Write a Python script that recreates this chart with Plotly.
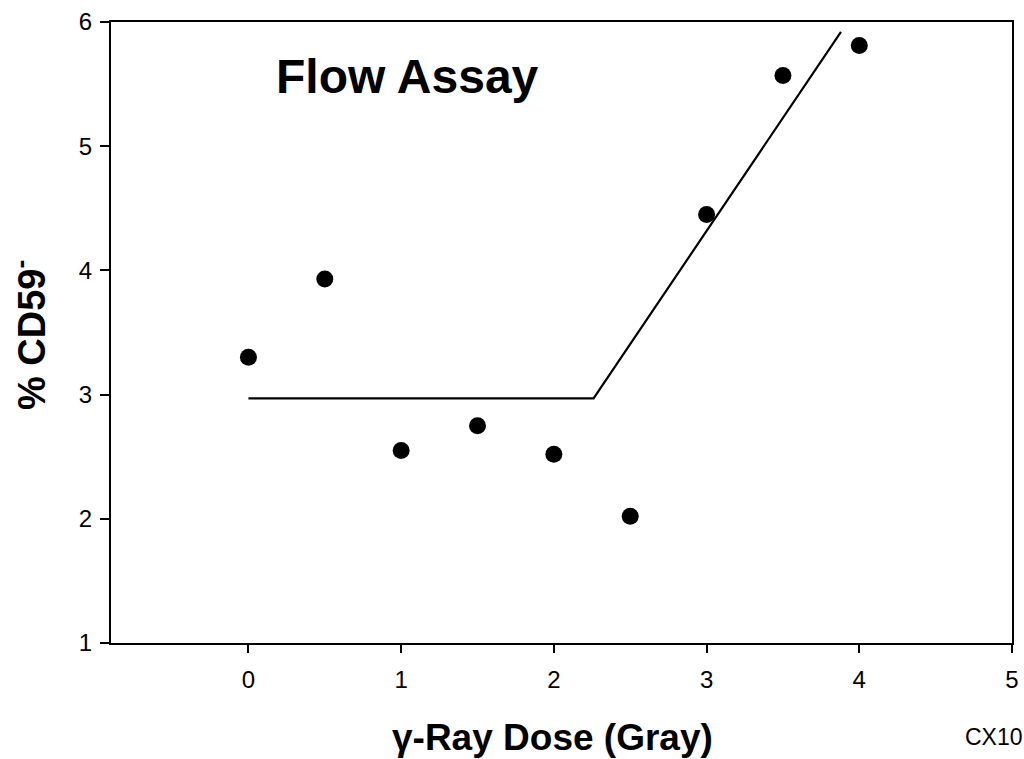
import plotly.graph_objects as go

# Data
dose = [0, 0.5, 1, 1.5, 2, 2.5, 3, 3.5, 4]
cd59 = [3.30, 3.93, 2.55, 2.75, 2.52, 2.02, 4.45, 5.57, 5.81]

fit_x = [0, 2.26, 3.88]
fit_y = [2.97, 2.97, 5.92]

x_ticks = [0, 1, 2, 3, 4, 5]
y_ticks = [1, 2, 3, 4, 5, 6]

FONT = "Liberation Sans, Arial, sans-serif"

L, R, T, B = 111, 12, 22, 116
W, H = 1024, 759
PW, PH = W - L - R, H - T - B


def px(xp):
    return (xp - L) / PW


def py(yp):
    return (H - B - yp) / PH


fig = go.Figure()
fig.add_trace(go.Scatter(x=fit_x, y=fit_y, mode="lines",
                         line=dict(color="black", width=2.2), showlegend=False))
fig.add_trace(go.Scatter(x=dose, y=cd59, mode="markers",
                         marker=dict(color="black", size=17), showlegend=False))

fig.update_layout(
    width=W, height=H,
    paper_bgcolor="white", plot_bgcolor="white",
    margin=dict(l=L, r=R, t=T, b=B),
    font=dict(family=FONT, color="black"),
    xaxis=dict(range=[-0.9, 5], tickvals=x_ticks, showgrid=False, zeroline=False,
               showline=True, linecolor="black", linewidth=2, mirror=True,
               ticks="outside", ticklen=8, tickwidth=2, tickcolor="black",
               tickfont=dict(size=24, family=FONT), ticklabelstandoff=6,
               automargin=False),
    yaxis=dict(range=[1, 6], tickvals=y_ticks, showgrid=False, zeroline=False,
               showline=True, linecolor="black", linewidth=2, mirror=True,
               ticks="outside", ticklen=9, tickwidth=2, tickcolor="black",
               tickfont=dict(size=24, family=FONT), ticklabelstandoff=3,
               automargin=False),
    annotations=[
        dict(text="<b>Flow Assay</b>", x=px(274), y=py(76), xref="paper", yref="paper",
             xanchor="left", yanchor="middle", showarrow=False,
             font=dict(size=48, family=FONT)),
        dict(text="<b>γ-Ray Dose (Gray)</b>", x=px(552), y=py(737), xref="paper", yref="paper",
             xanchor="center", yanchor="middle", showarrow=False,
             font=dict(size=37, family=FONT)),
        dict(text="<b>% CD59<sup>-</sup></b>", x=px(29), y=py(335), xref="paper", yref="paper",
             xanchor="center", yanchor="middle", textangle=-90, showarrow=False,
             font=dict(size=38, family=FONT)),
        dict(text="CX10", x=px(963), y=py(737), xref="paper", yref="paper",
             xanchor="left", yanchor="middle", showarrow=False,
             font=dict(size=23, family=FONT)),
    ],
)

fig.write_html("out.html", config={"displayModeBar": False},
               post_script="document.body.style.margin='0';document.body.style.overflow='hidden';")
